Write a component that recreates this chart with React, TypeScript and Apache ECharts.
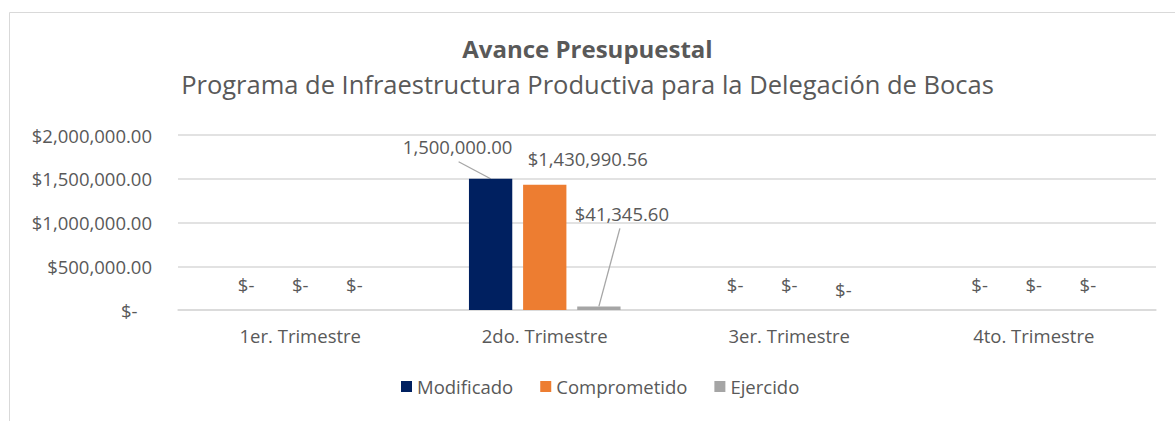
import React, { useEffect, useRef } from "react";
import * as echarts from "echarts";

const categories = ["1er. Trimestre", "2do. Trimestre", "3er. Trimestre", "4to. Trimestre"];
const seriesNames = ["Modificado", "Comprometido", "Ejercido"];
const modificado = [0, 1500000, 0, 0];
const comprometido = [0, 1430990.56, 0, 0];
const ejercido = [0, 41345.6, 0, 0];
const colors = ["#002060", "#ED7D31", "#A5A5A5"];

const FONT = "'Open Sans', sans-serif";
const TEXT = "#595959";
const FS = 18.5;

function fmt(v: number) {
  return v.toLocaleString("en-US", { minimumFractionDigits: 2, maximumFractionDigits: 2 });
}

// label offsets for moved (non-zero) labels, per series
const labelShift = [
  { dx: -33, dy: -18 },
  { dx: 43, dy: -12 },
  { dx: 23, dy: -78 },
];
// leader line start, relative to the label centre (null = no leader)
const leaderStart: ({ x: number; y: number } | null)[] = [
  { x: 1, y: 18 },
  null,
  { x: -2, y: 17 },
];

export default function App() {
  const ref = useRef<HTMLDivElement>(null);
  useEffect(() => {
    document.body.style.margin = "0";
    const chart = echarts.init(ref.current!, null, { renderer: "svg" });
    const all = [modificado, comprometido, ejercido];
    const series = all.map((arr, si) => ({
      name: seriesNames[si],
      type: "bar",
      barGap: "25%",
      barCategoryGap: "38%",
      itemStyle: { color: colors[si] },
      data: arr.map((v, di) => ({
        value: v,
        label: {
          distance: v === 0 ? (si === 2 && di === 2 ? 11 : 16) : 5,
        },
      })),
      label: {
        show: true,
        position: "top",
        fontFamily: FONT,
        fontSize: FS,
        color: TEXT,
        formatter: (p: any) => {
          const v = p.value as number;
          if (v === 0) return "$-";
          return si === 0 ? fmt(v) : "$" + fmt(v);
        },
      },
      labelLayout: (p: any) => {
        const v = all[si][p.dataIndex];
        if (v === 0) return {};
        return { dx: labelShift[si].dx, dy: labelShift[si].dy };
      },
    }));

    chart.setOption({
      animation: false,
      textStyle: { fontFamily: FONT },
      title: {
        text: "Avance Presupuestal",
        subtext: "Programa de Infraestructura Productiva para la Delegación de Bocas",
        left: "center",
        top: 31,
        itemGap: 11,
        textStyle: { fontFamily: FONT, fontSize: 24, fontWeight: "bold", color: TEXT },
        subtextStyle: { fontFamily: FONT, fontSize: 25.5, color: TEXT },
      },
      legend: {
        top: 372,
        left: 396,
        icon: "rect",
        itemWidth: 11,
        itemHeight: 11,
        itemGap: 27,
        textStyle: { fontFamily: FONT, fontSize: FS, color: TEXT },
        data: seriesNames,
      },
      grid: { left: 178, right: 19, top: 135, bottom: 111, containLabel: false },
      xAxis: {
        type: "category",
        data: categories,
        axisLine: { show: true, lineStyle: { color: "#D9D9D9", width: 1.5 } },
        axisTick: { show: false },
        axisLabel: { fontFamily: FONT, fontSize: FS, color: TEXT, margin: 16 },
      },
      yAxis: {
        type: "value",
        min: 0,
        max: 2000000,
        interval: 500000,
        axisLine: { show: false },
        axisTick: { show: false },
        splitLine: { lineStyle: { color: "#D9D9D9", width: 1.5 } },
        axisLabel: {
          fontFamily: FONT,
          fontSize: FS,
          color: TEXT,
          margin: 26,
          formatter: (v: number) => (v === 0 ? "$-\u00a0\u00a0\u00a0" : "$" + fmt(v)),
        },
      },
      series,
    });

    // frame + leader lines computed from the library's bar layout
    const graphics: any[] = [
      {
        type: "rect",
        left: 7,
        top: 10,
        shape: { x: 0, y: 0, width: 1300, height: 600 },
        style: { fill: "none", stroke: "#D9D9D9", lineWidth: 1 },
        silent: true,
      },
    ];
    try {
      const model: any = (chart as any).getModel();
      all.forEach((arr, si) => {
        const start = leaderStart[si];
        if (!start) return;
        const data = model.getSeriesByIndex(si).getData();
        arr.forEach((v, di) => {
          if (v === 0) return;
          const lay = data.getItemLayout(di);
          const cx = lay.x + lay.width / 2;
          const top = Math.min(lay.y, lay.y + lay.height);
          const lx = cx + labelShift[si].dx;
          const ly = top - 5 - FS * 0.65 + labelShift[si].dy;
          graphics.push({
            type: "line",
            silent: true,
            shape: { x1: lx + start.x, y1: ly + start.y, x2: cx, y2: top },
            style: { stroke: "#A6A6A6", lineWidth: 1.3 },
          });
        });
      });
    } catch (e) {
      // ignore
    }
    chart.setOption({ graphic: graphics });
    return () => chart.dispose();
  }, []);
  return <div ref={ref} style={{ width: 1175, height: 421, position: "absolute", left: 0, top: 0 }} />;
}
